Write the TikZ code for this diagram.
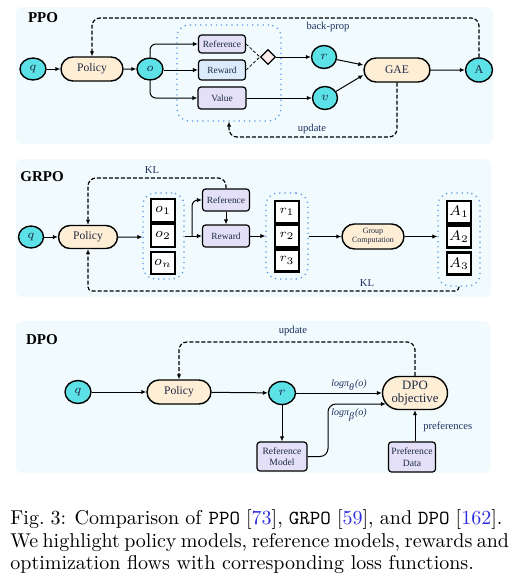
\documentclass[tikz,border=0pt]{standalone}
\usepackage{fontspec}
\newfontfamily\figfont{Liberation Serif}
\usetikzlibrary{shapes.geometric,shapes.misc,arrows.meta,calc}
\definecolor{bgc}{HTML}{F1FBFD}
\definecolor{cyanc}{HTML}{5CE1E6}
\definecolor{orc}{HTML}{FFEED6}
\definecolor{lavc}{HTML}{E3E0F8}
\definecolor{rewc}{HTML}{DCEBFB}
\definecolor{pinkc}{HTML}{FDECEA}
\definecolor{dotc}{HTML}{4F94E3}
\definecolor{txtc}{HTML}{1E2A44}
\definecolor{labc}{HTML}{1F3060}
\definecolor{citec}{HTML}{2B2BE0}
\newcommand\fsz[1]{\figfont\fontsize{#1}{#1}\selectfont}
\newcommand\csz[1]{\fontsize{#1}{#1}\selectfont}
\begin{document}
\begin{tikzpicture}[x=0.5pt,y=-0.5pt,
  circ/.style={ellipse, draw=black, line width=0.7pt, fill=cyanc, inner sep=0pt, font=\fsz{6.5}, text=txtc},
  pill/.style={rounded rectangle, draw=black, line width=0.7pt, fill=orc, inner sep=0pt, font=\fsz{5.8}, text=txtc},
  sbox/.style={rectangle, rounded corners=1.5pt, draw=black, line width=0.6pt, fill=lavc, inner sep=0pt, font=\fsz{4.7}, text=txtc, align=center},
  tbox/.style={rectangle, draw=black, line width=1.2pt, fill=white, inner sep=0pt, font=\csz{7}},
  dotbox/.style={rectangle, rounded corners=6pt, draw=dotc, dotted, line width=0.6pt, inner sep=0pt},
  arr/.style={-{Latex[length=2.5pt,width=2.2pt]}, line width=0.5pt},
  dasharr/.style={arr, dash pattern=on 2pt off 1pt, line width=0.6pt},
  lab/.style={font=\fsz{5.3}, text=labc, inner sep=0pt},
  ttl/.style={font=\bfseries\fsz{7.5}, inner sep=0pt},
  panel/.style={fill=bgc, rounded corners=3pt}
]
\useasboundingbox (0,0) rectangle (516,584);
% panels
\fill[panel] (16,7) rectangle (493,144);
\fill[panel] (16,159) rectangle (491,297);
\fill[panel] (16,321) rectangle (490,473);

% ================= PPO =================
\node[ttl] (ppot) at (43,18) {PPO};
\node[circ, minimum width=13pt, minimum height=11pt] (ppoq) at (33,69) {$q$};
\node[pill, minimum width=31pt, minimum height=12pt] (ppopol) at (92,69) {Policy};
\node[circ, minimum width=13pt, minimum height=11pt] (ppoo) at (150,69) {$o$};
\node[dotbox, minimum width=52pt, minimum height=48pt] (ppobox) at (229,73) {};
\node[sbox, minimum width=23.5pt, minimum height=9pt] (ppref) at (222,44) {Reference};
\node[sbox, fill=rewc, minimum width=23.5pt, minimum height=10pt] (pprew) at (222,70) {Reward};
\node[sbox, minimum width=24pt, minimum height=11pt] (ppval) at (222,98) {Value};
\node[diamond, draw=black, line width=0.6pt, fill=pinkc, minimum width=7.5pt, minimum height=7.5pt, inner sep=0pt] (ppdia) at (268,57) {};
\node[circ, minimum width=12.5pt, minimum height=11.5pt] (ppr) at (324,57) {$r$};
\node[circ, minimum width=12.5pt, minimum height=11.5pt] (ppv) at (325,98) {$v$};
\node[pill, minimum width=33pt, minimum height=12pt] (gae) at (397,70) {GAE};
\node[circ, font=\fsz{6}, minimum width=13.5pt, minimum height=12pt] (ppA) at (479,70) {A};
\coordinate (bpY) at (0,18);
\coordinate (upY) at (0,137);

\draw[arr] (ppoq) -- (ppopol);
\draw[arr] (ppopol) -- (ppoo);
\draw[arr, rounded corners=3pt] (ppoo.north) |- (ppref.west);
\draw[arr] (ppoo.east |- pprew.west) -- (pprew.west);
\draw[arr, rounded corners=3pt] (ppoo.south) |- (ppval.west);
\draw[line width=0.4pt, dash pattern=on 1.5pt off 1pt] (ppref.east) -- (ppdia.west);
\draw[line width=0.4pt, dash pattern=on 1.5pt off 1pt] (pprew.east) -- (ppdia.west);
\draw[arr] (ppdia.east) -- (ppr);
\draw[arr] (ppval) -- (ppv);
\draw[arr] (ppr) -- ([yshift=2.5pt]gae.west);
\draw[arr] (ppv) -- ([yshift=-2.5pt]gae.west);
\draw[arr] (gae) -- (ppA);
\draw[dasharr, rounded corners=4pt] (ppA.north) |- (ppopol.north |- bpY) -- (ppopol.north);
\draw[dasharr, rounded corners=4pt] (gae.south) |- (ppobox.south |- upY) -- (ppobox.south);
\node[lab] (bplab) at (328,27) {back-prop};
\node[lab] (uplab) at (312,129) {update};

% ================= GRPO =================
\node[ttl] (grpot) at (42,177) {GRPO};
\node[circ, minimum width=12.5pt, minimum height=11pt] (gq) at (31,237) {$q$};
\node[pill, minimum width=29.5pt, minimum height=11.5pt] (gpol) at (88,237) {Policy};
\node[dotbox, minimum width=20.5pt, minimum height=43pt] (obox) at (163.5,236) {};
\node[tbox, minimum width=12pt, minimum height=11.5pt] (o1) at (163,210.5) {$o_1$};
\node[tbox, minimum width=12pt, minimum height=11.5pt] (o2) at (163,235.5) {$o_2$};
\node[tbox, minimum width=12pt, minimum height=11pt] (on) at (163,263) {$o_n$};
\node[sbox, minimum width=23.5pt, minimum height=11pt] (gref) at (226,200) {Reference};
\node[sbox, minimum width=23.5pt, minimum height=11pt] (grew) at (226,236) {Reward};
\node[dotbox, minimum width=21pt, minimum height=43pt] (rbox) at (287,236) {};
\node[tbox, font=\csz{5.8}, minimum width=12pt, minimum height=11pt] (r1) at (287,212) {$r_1$};
\node[tbox, font=\csz{5.8}, minimum width=12pt, minimum height=11pt] (r2) at (287,236) {$r_2$};
\node[tbox, font=\csz{5.8}, minimum width=12pt, minimum height=11pt] (r3) at (287,260.5) {$r_3$};
\node[pill, font=\fsz{4}, align=center, minimum width=31pt, minimum height=12.5pt] (gc) at (373,236.5) {Group\\[0.6pt]Computation};
\node[dotbox, minimum width=21pt, minimum height=46.5pt] (Abox) at (459,239.5) {};
\node[tbox, minimum width=12pt, minimum height=11pt] (A1) at (459,212) {$A_1$};
\node[tbox, minimum width=12pt, minimum height=11pt] (A2) at (459,236.5) {$A_2$};
\node[tbox, minimum width=12pt, minimum height=11pt] (A3) at (459,263.5) {$A_3$};
\coordinate (gsplit) at (192,236);
\coordinate (klY) at (0,178);
\coordinate (kl2Y) at (0,291);

\draw[arr] (gq) -- (gpol);
\draw[arr] (gpol) -- (gpol -| obox.west);
\draw[arr] (obox.east |- grew.west) -- (grew.west);
\draw[arr, rounded corners=3pt] (gsplit) |- (gref.west);
\draw[arr] (gref) -- (grew);
\draw[arr] (grew) -- (grew -| rbox.west);
\draw[arr] (rbox.east |- gc.west) -- (gc.west);
\draw[arr] (gc.east) -- (gc.east -| Abox.west);
\draw[dasharr, rounded corners=4pt] (gref.north) |- (gpol.north |- klY) -- (gpol.north);
\draw[dasharr, rounded corners=2pt] (Abox.south) |- (gpol.south |- kl2Y) -- (gpol.south);
\node[lab] (kl1) at (152,170) {KL};
\node[lab] (kl2) at (367,283) {KL};

% ================= DPO =================
\node[ttl] (dpot) at (42,340) {DPO};
\node[circ, minimum width=13pt, minimum height=11.5pt] (dq) at (78,392) {$q$};
\node[pill, minimum width=32pt, minimum height=12pt] (dpol) at (179,392) {Policy};
\node[circ, minimum width=13.5pt, minimum height=11.5pt] (dr) at (282,393) {$r$};
\node[pill, font=\fsz{6.4}, align=center, minimum width=32.5pt, minimum height=16.5pt] (dobj) at (415,393) {DPO\\[0.3pt]objective};
\node[sbox, font=\fsz{4.8}, minimum width=25pt, minimum height=14.5pt] (dref) at (282,456.5) {Reference\\[1pt]Model};
\node[sbox, font=\fsz{4.8}, minimum width=23.5pt, minimum height=15pt] (dpref) at (412,457) {Preference\\[1pt]Data};
\coordinate (dmid) at (328,404);
\coordinate (duY) at (0,342);

\draw[arr] (dq) -- (dpol);
\draw[arr] (dpol) -- (dr);
\draw[arr] (dr) -- (dobj);
\draw[arr] (dr) -- (dref);
\draw[arr, rounded corners=4pt] (dref.east) -| (dmid) -- ([xshift=2pt]dmid -| dobj.west);
\draw[arr] (dpref.north -| dobj.south) -- (dobj.south);
\draw[dasharr, rounded corners=4pt] (dobj.north) |- (dpol.north |- duY) -- (dpol.north);
\node[lab, font=\fsz{5}\itshape] (dlab1) at (349,385) {logπ\textsubscript{θ}(o)};
\node[lab, font=\fsz{5}\itshape] (dlab2) at (349,415) {logπ\textsubscript{β}(o)};
\node[lab, anchor=west] (dlab3) at (423,427) {preferences};
\node[lab] (dlab4) at (293,331) {update};

% ================= caption =================
\node[anchor=base west, inner sep=0pt, font=\csz{10}] (cap1) at (10,524) {\makebox[246pt][s]{Fig.\ 3: Comparison of \texttt{PPO} [\textcolor{citec}{73}], \texttt{GRPO} [\textcolor{citec}{59}], and \texttt{DPO} [\textcolor{citec}{162}].}};
\node[anchor=base west, inner sep=0pt, font=\csz{10}] (cap2) at (10,547) {\makebox[246pt][s]{We highlight policy models, reference models, rewards and}};
\node[anchor=base west, inner sep=0pt, font=\csz{10}] (cap3) at (10,569) {optimization flows with corresponding loss functions.};
\end{tikzpicture}
\end{document}
